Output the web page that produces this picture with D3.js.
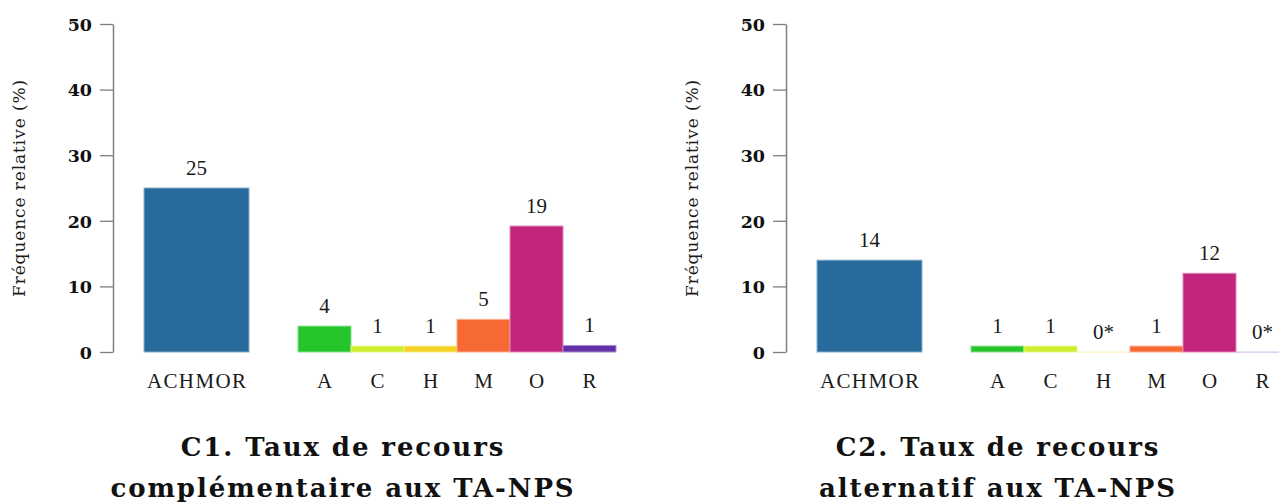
<!DOCTYPE html>
<html>
<head>
<meta charset="utf-8">
<script src="https://cdn.jsdelivr.net/npm/d3@7"></script>
<style>
  html, body { margin: 0; padding: 0; background: #fff; }
  svg { display: block; }
</style>
</head>
<body>
<svg id="chart" width="1279" height="504"></svg>
<script>
// ---- data ----
const categories = ["ACHMOR", "A", "C", "H", "M", "O", "R"];
const colors = ["#276a9c", "#25c42a", "#d0ee2c", "#f5d323", "#f76932", "#c2247e", "#6231a8"];
const valuesC1 = [25.0, 3.95, 0.9, 0.9, 4.98, 19.2, 1.0];
const valuesC2 = [14.0, 0.9, 0.9, 0, 0.9, 12.0, 0];
const yTicks = [0, 10, 20, 30, 40, 50];
const yTitle = "Fréquence relative (%)";
const titlesC1 = ["C1. Taux de recours", "complémentaire aux TA-NPS"];
const titlesC2 = ["C2. Taux de recours", "alternatif aux TA-NPS"];

const svg = d3.select("#chart");
const serif = "'Liberation Serif', 'Times New Roman', serif";
const serifWide = "'DejaVu Serif', serif";

const y = d3.scaleLinear().domain([0, 50]).range([352, 24]);

function panel(ox, values, titles, titleCx) {
  const g = svg.append("g").attr("transform", `translate(${ox},0)`);

  // scales: ACHMOR band, then single-letter band
  const xMain = d3.scaleBand().domain([categories[0]]).range([31, 136]).padding(0);
  const xSub = d3.scaleBand().domain(categories.slice(1)).range([185, 503]).padding(0);
  const xPos = c => c === categories[0] ? xMain(c) : xSub(c);
  const bw = c => c === categories[0] ? xMain.bandwidth() : xSub.bandwidth();

  const data = categories.map((c, i) => ({ c, v: values[i], col: colors[i] }));

  // bars
  g.selectAll("rect.bar").data(data).join("rect")
    .attr("class", "bar")
    .attr("x", d => xPos(d.c))
    .attr("width", d => bw(d.c))
    .attr("y", d => y(d.v))
    .attr("height", d => Math.max(y(0) - y(d.v), 0.1))
    .attr("fill", d => d.col)
    .attr("stroke", d => d3.interpolateRgb(d.col, "#ffffff")(d.v === 0 ? 0.72 : 0.45))
    .attr("stroke-width", 1);

  // value labels
  g.selectAll("text.val").data(data).join("text")
    .attr("class", "val")
    .attr("x", d => xPos(d.c) + bw(d.c) / 2)
    .attr("y", d => y(d.v) - 13)
    .attr("text-anchor", "middle")
    .attr("font-family", serif)
    .attr("font-size", 21)
    .attr("fill", "#1a1a1a")
    .text(d => d.v === 0 ? "0*" : d3.format(".0f")(d.v));

  // category labels
  g.selectAll("text.cat").data(data).join("text")
    .attr("class", "cat")
    .attr("x", d => xPos(d.c) + bw(d.c) / 2 + 0.7)
    .attr("y", 388)
    .attr("text-anchor", "middle")
    .attr("font-family", serif)
    .attr("font-size", 21)
    .attr("letter-spacing", 1.4)
    .attr("fill", "#1a1a1a")
    .text(d => d.c);

  // y axis
  const ax = g.append("g")
    .call(d3.axisLeft(y).tickValues(yTicks).tickSize(13).tickSizeOuter(0).tickPadding(8).tickFormat(d3.format("d")));
  ax.select(".domain").attr("stroke", "#7f7f7f").attr("stroke-width", 1.5);
  ax.selectAll(".tick line").attr("stroke", "#7f7f7f").attr("stroke-width", 1.3);
  ax.selectAll(".tick text")
    .attr("font-family", serifWide)
    .attr("font-weight", "bold")
    .attr("font-size", 17.5)
    .attr("fill", "#111")
    .attr("dy", "0.36em");

  // y title
  g.append("text")
    .attr("transform", `translate(${-88},${188}) rotate(-90)`)
    .attr("text-anchor", "middle")
    .attr("font-family", serifWide)
    .attr("font-size", 17)
    .attr("letter-spacing", 0.9)
    .attr("fill", "#1a1a1a")
    .text(yTitle);

  // panel title
  g.append("text")
    .attr("x", titleCx)
    .attr("y", 456)
    .attr("text-anchor", "middle")
    .attr("font-family", serifWide)
    .attr("font-weight", "bold")
    .attr("font-size", 26)
    .attr("letter-spacing", 1.9)
    .attr("fill", "#111")
    .selectAll("tspan").data(titles).join("tspan")
    .attr("x", titleCx + 1)
    .attr("dy", (d, i) => i === 0 ? 0 : 41)
    .text(d => d);
}

panel(113, valuesC1, titlesC1, 229);
panel(786, valuesC2, titlesC2, 211);
</script>
</body>
</html>
